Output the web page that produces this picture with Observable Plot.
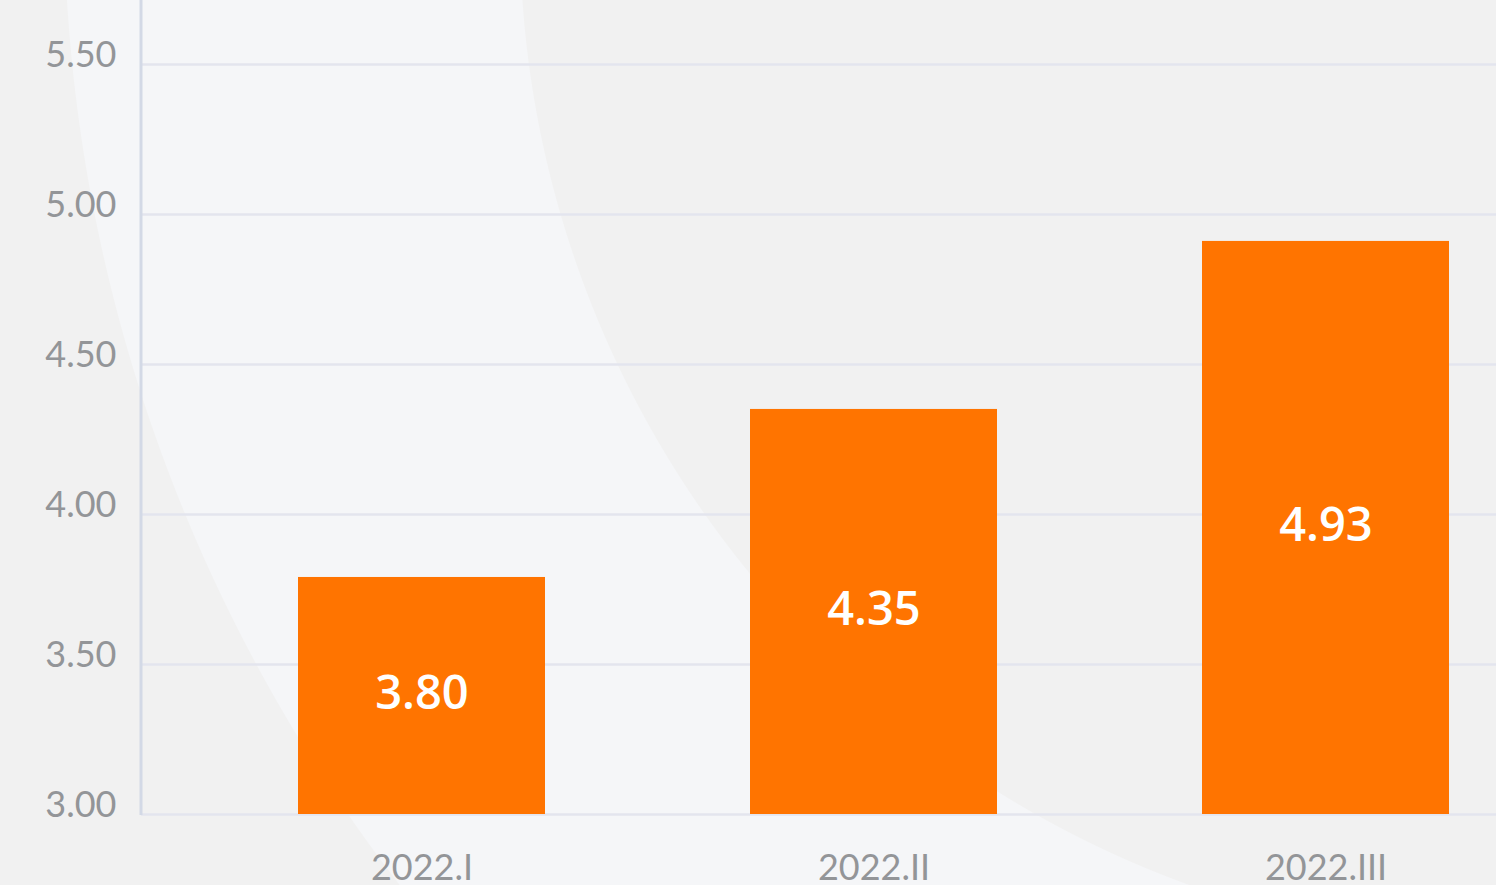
<!DOCTYPE html>
<html>
<head>
<meta charset="utf-8">
<script src="https://cdn.jsdelivr.net/npm/d3@7"></script>
<script src="https://cdn.jsdelivr.net/npm/@observablehq/plot@0.6"></script>
<style>
  html, body { margin: 0; padding: 0; }
  body {
    width: 1496px; height: 885px; overflow: hidden;
    background:
      radial-gradient(circle 1016px at 1536px -70px, #f1f1f1 1015.5px, rgba(241,241,241,0) 1016.5px),
      radial-gradient(circle 1607px at 1671px -98px, #f5f6f8 1606.5px, #f1f1f1 1607.5px);
  }
  #chart svg { display: block; }
</style>
</head>
<body>
<div id="chart"></div>
<script>
// Data
const quarters = ["2022.I", "2022.II", "2022.III"];
const values = [3.79, 4.35, 4.91];           // bar heights as drawn
const valueLabels = ["3.80", "4.35", "4.93"]; // printed labels
const yTicks = [3.0, 3.5, 4.0, 4.5, 5.0, 5.5];
const yDomain = [3, 5.713];

const data = quarters.map((q, i) => ({q, v: values[i], label: valueLabels[i]}));

const W = 1496, H = 885;

const axisLine = (index, scales, values, dimensions) => {
  const {marginLeft, marginTop, height, marginBottom} = dimensions;
  const g = d3.create("svg:line")
    .attr("x1", marginLeft).attr("x2", marginLeft)
    .attr("y1", marginTop).attr("y2", height - marginBottom + 1)
    .attr("stroke", "#d3d9e6").attr("stroke-width", 3);
  return g.node();
};

const chart = Plot.plot({
  width: W,
  height: H,
  marginLeft: 141,
  marginRight: 0,
  marginTop: 0,
  marginBottom: 71,
  style: {background: "transparent", overflow: "hidden"},
  x: {domain: quarters, range: [195.5, 1551.5], paddingInner: 0.454, paddingOuter: 0.227, axis: null, label: null},
  y: {domain: yDomain, axis: null, label: null},
  marks: [
    Plot.ruleY(yTicks, {stroke: "#e3e5ee", strokeWidth: 2.5}),
    axisLine,
    Plot.barY(data, {x: "q", y1: yDomain[0], y2: "v", fill: "#ff7400"}),
    Plot.text(data, {
      x: "q", y: d => (yDomain[0] + d.v) / 2, text: "label",
      fill: "white", fontSize: 47, fontWeight: 600, fontFamily: "Open Sans", dy: -2
    }),
    Plot.axisY(yTicks, {
      anchor: "left", tickSize: 0, tickPadding: 25, tickFormat: d3.format(".2f"),
      fontSize: 36, fontFamily: "Lato", fill: "#939598", dy: -9, label: null
    }),
    Plot.axisX(quarters, {
      anchor: "bottom", tickSize: 0, tickPadding: 40,
      fontSize: 36, fontFamily: "Lato", fill: "#939598", label: null
    })
  ]
});

document.getElementById("chart").appendChild(chart);
</script>
</body>
</html>
